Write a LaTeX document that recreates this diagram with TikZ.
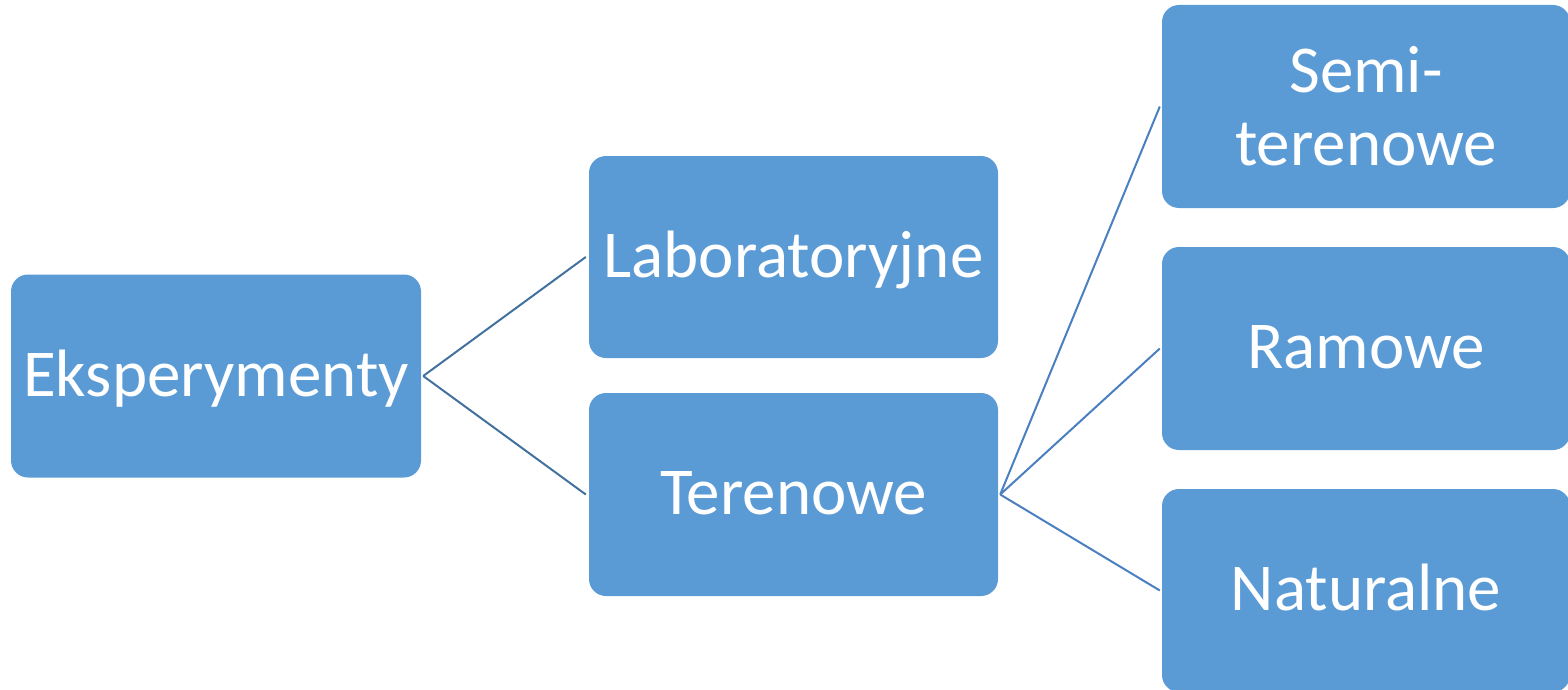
\documentclass[tikz,border=0pt]{standalone}
\usepackage{fontspec}
\setmainfont{Carlito}
\definecolor{boxfill}{HTML}{5B9BD5}
\definecolor{linkA}{HTML}{41719C}
\definecolor{linkB}{HTML}{4A7FC0}
\begin{document}
\begin{tikzpicture}[x=1pt,y=-1pt,
  box/.style={fill=boxfill,draw=none,rounded corners=17pt,minimum width=410pt,minimum height=203pt,inner sep=0pt,text=white,align=center,font=\fontsize{67}{73}\selectfont},
  oneline/.style={text height=50pt,text depth=10pt},
  linka/.style={draw=linkA,line width=2pt},
  linkb/.style={draw=linkB,line width=2pt}]
\useasboundingbox (0,0) rectangle (1568,690);
\node[box,oneline] (eks) at (216,376) {Eksperymenty};
\node[box,oneline,minimum width=409pt,minimum height=202pt] (lab) at (793.5,257) {Laboratoryjne};
\node[box,oneline,minimum width=409pt] (ter) at (793.5,494.5) {Terenowe};
\node[box,minimum width=408pt] (semi) at (1366,106.5) {Semi-\\terenowe};
\node[box,oneline,minimum width=408pt] (ram) at (1366,348.5) {Ramowe};
\node[box,oneline,minimum width=408pt] (nat) at (1366,590.5) {Naturalne};
\draw[linka] ([xshift=2pt]eks.east) -- ([xshift=-3pt]lab.west);
\draw[linka] ([xshift=2pt]eks.east) -- ([xshift=-3pt]ter.west);
\draw[linkb] ([xshift=2pt]ter.east) -- ([xshift=-2pt]semi.west);
\draw[linkb] ([xshift=2pt]ter.east) -- ([xshift=-2pt]ram.west);
\draw[linkb] ([xshift=2pt]ter.east) -- ([xshift=-2pt]nat.west);
\end{tikzpicture}
\end{document}
